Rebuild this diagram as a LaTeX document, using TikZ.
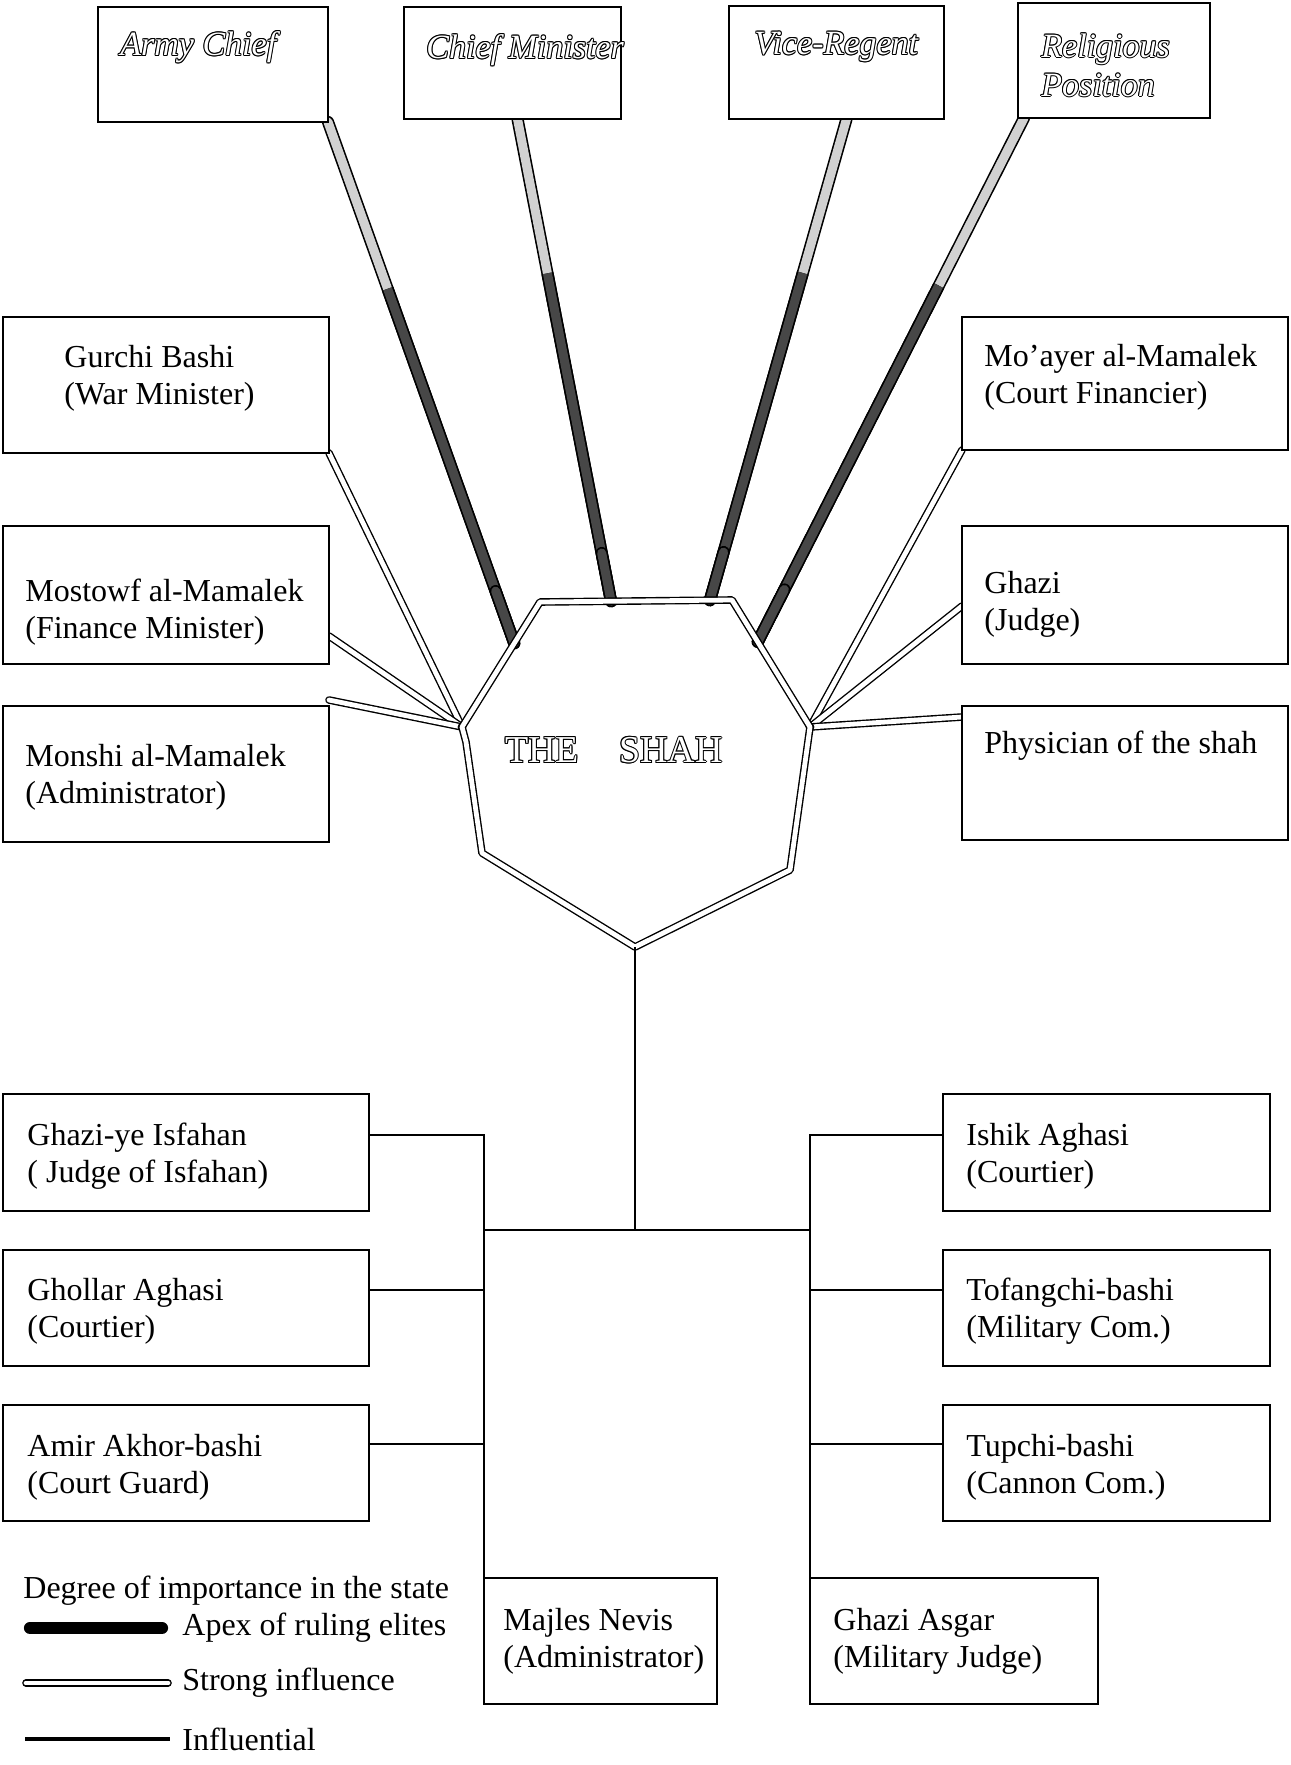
\documentclass[tikz,border=0pt]{standalone}
\usepackage{fontspec}
\setmainfont{Liberation Serif}
\usetikzlibrary{calc}
\newcommand\hollowtext[4]{%
  \foreach \ang in {0,45,...,315}{\node[#1, text=black] at ($(#3)+(\ang:0.5pt)$) {#4};}
  \node[#1, text=white] (#2) at (#3) {#4};}
\begin{document}
\begin{tikzpicture}[x=0.5pt,y=-0.5pt,
  box/.style={draw=black, line width=1.3pt, rectangle, inner sep=0pt, outer sep=0pt, fill=white},
  lbl/.style={font=\fontsize{16}{18.5}\selectfont, align=left, inner sep=0pt, anchor=west},
  toplbl/.style={font=\fontsize{17}{19.5}\selectfont\itshape, align=left, inner sep=0pt, anchor=west},
  shahlbl/.style={font=\fontsize{19}{21}\selectfont, inner sep=0pt, anchor=center},
  apexline/.style={line width=0.8pt, double distance=4.5pt, line cap=round},
  strongline/.style={line width=0.7pt, double=white, double distance=2.4pt, line cap=round, line join=round},
  infline/.style={line width=1.2pt},
]
\useasboundingbox (0,0) rectangle (1290,1765);
\fill[white] (0,0) rectangle (1290,1765);

% octagon corners
\coordinate (oTL) at (540,602);
\coordinate (oTR) at (732,600);
\coordinate (oR)  at (810,727);
\coordinate (oRL) at (790,870);
\coordinate (oB)  at (635,947);
\coordinate (oLL) at (482,853);
\coordinate (oL)  at (462,727);
\coordinate (oLk) at (466,742);

% boxes (empty nodes, labels placed separately)
\node[box, minimum width=115pt,   minimum height=57.5pt] (army)  at (213,64.5) {};
\node[box, minimum width=108.5pt, minimum height=56pt]   (chief) at (512.5,63) {};
\node[box, minimum width=107.5pt, minimum height=56.5pt] (vice)  at (836.5,62.5) {};
\node[box, minimum width=96pt,    minimum height=57.5pt] (relig) at (1114,60.5) {};

% apex connectors
\coordinate (eArmy)  at ($(oTL)!0.33!(oL)$);
\coordinate (eChief) at ($(oTL)!0.37!(oTR)$);
\coordinate (eVice)  at ($(oTL)!0.885!(oTR)$);
\coordinate (eRelig) at ($(oTR)!0.33!(oR)$);
\coordinate (sChief) at ($(chief.south)+(5,0)$);
\coordinate (sVice)  at ($(vice.south)+(10,0)$);
\coordinate (sRelig) at ($(relig.south west)+(6,0)$);
\foreach \s/\e in {army.south east/eArmy, sChief/eChief, sVice/eVice, sRelig/eRelig}{
  \draw[apexline, double=black!18] (\s) -- (\e);
  \draw[apexline, double=black!72, line cap=butt] ($(\s)!0.32!(\e)$) -- (\e);
  \draw[apexline, double=black!72] ($(\s)!0.9!(\e)$) -- (\e);
}

% side boxes
\node[box, minimum width=163pt, minimum height=68pt]   (gurchi)    at (166,385) {};
\node[box, minimum width=163pt, minimum height=69pt]   (mostowf)   at (166,595) {};
\node[box, minimum width=163pt, minimum height=68pt]   (monshi)    at (166,774) {};
\node[box, minimum width=163pt, minimum height=66.5pt] (moayer)    at (1125,383.5) {};
\node[box, minimum width=163pt, minimum height=69pt]   (ghazi)     at (1125,595) {};
\node[box, minimum width=163pt, minimum height=67pt]   (physician) at (1125,773) {};

% strong connectors
\coordinate (sMost) at ($(mostowf.north east)+(0,110)$);
\coordinate (sMon)  at ($(monshi.north east)+(0,-6)$);
\coordinate (sGhazi) at ($(ghazi.north west)+(0,80)$);
\coordinate (sPhys) at ($(physician.north west)+(0,11)$);
\draw[strongline] (gurchi.south east) -- (oL);
\draw[strongline] (sMost) -- (oL);
\draw[strongline] (sMon) -- (oL);
\draw[strongline] (moayer.south west) -- (oR);
\draw[strongline] (sGhazi) -- (oR);
\draw[strongline] (sPhys) -- (oR);
\fill[black] (oL) circle (2.2pt);
\fill[black] (oR) circle (2.2pt);

% the shah
\draw[strongline] (oTL) -- (oTR) -- (oR) -- (oRL) -- (oB) -- (oLL) -- (oLk) -- (oL) -- cycle;
\hollowtext{shahlbl}{shah}{614,750}{THE\hspace{20pt}SHAH}

% redraw side boxes on top of connector caps
\node[box, minimum width=163pt, minimum height=68pt]   at (gurchi) {};
\node[box, minimum width=163pt, minimum height=69pt]   at (mostowf) {};
\node[box, minimum width=163pt, minimum height=68pt]   at (monshi) {};
\node[box, minimum width=163pt, minimum height=66.5pt] at (moayer) {};
\node[box, minimum width=163pt, minimum height=69pt]   at (ghazi) {};
\node[box, minimum width=163pt, minimum height=67pt]   at (physician) {};
\node[box, minimum width=115pt,   minimum height=57.5pt] at (army) {};
\node[box, minimum width=108.5pt, minimum height=56pt]   at (chief) {};
\node[box, minimum width=107.5pt, minimum height=56.5pt] at (vice) {};
\node[box, minimum width=96pt,    minimum height=57.5pt] at (relig) {};

% top labels (hollow italic)
\hollowtext{toplbl}{armyT}{120,47}{Army Chief}
\hollowtext{toplbl}{chiefT}{426,50}{Chief Minister}
\hollowtext{toplbl}{viceT}{754,47}{Vice-Regent}
\hollowtext{toplbl}{religT}{1041,65}{Religious\\Position}

% side labels
\node[lbl] (gurchiT)  at (64,378)  {Gurchi Bashi\\(War Minister)};
\node[lbl] (mostowfT) at (25,612)  {Mostowf al-Mamalek\\(Finance Minister)};
\node[lbl] (monshiT)  at (25,777)  {Monshi al-Mamalek\\(Administrator)};
\node[lbl] (moayerT)  at (984,377) {Mo’ayer al-Mamalek\\(Court Financier)};
\node[lbl] (ghaziT)   at (984,604) {Ghazi\\(Judge)};
\node[lbl] (physT)    at (984,746) {Physician of the shah};

% lower boxes
\node[box, minimum width=183pt, minimum height=58.5pt] (ghaziI)  at (186,1152.5) {};
\node[box, minimum width=183pt, minimum height=58pt]   (ghollar) at (186,1308) {};
\node[box, minimum width=183pt, minimum height=58pt]   (amir)    at (186,1463) {};
\node[box, minimum width=163.5pt, minimum height=58.5pt] (ishik)  at (1106.5,1152.5) {};
\node[box, minimum width=163.5pt, minimum height=58pt]   (tofang) at (1106.5,1308) {};
\node[box, minimum width=163.5pt, minimum height=58pt]   (tupchi) at (1106.5,1463) {};
\node[box, minimum width=116.5pt, minimum height=63pt] (majles) at (600.5,1641) {};
\node[box, minimum width=144pt,   minimum height=63pt] (ghaziA) at (954,1641) {};

\node[lbl] (ghaziIT)  at (27,1156)  {Ghazi-ye Isfahan\\( Judge of Isfahan)};
\node[lbl] (ghollarT) at (27,1311)  {Ghollar Aghasi\\(Courtier)};
\node[lbl] (amirT)    at (27,1467)  {Amir Akhor-bashi\\(Court Guard)};
\node[lbl] (ishikT)   at (966,1156) {Ishik Aghasi\\(Courtier)};
\node[lbl] (tofangT)  at (966,1311) {Tofangchi-bashi\\(Military Com.)};
\node[lbl] (tupchiT)  at (966,1467) {Tupchi-bashi\\(Cannon Com.)};
\node[lbl] (majlesT)  at (503,1641) {Majles Nevis\\(Administrator)};
\node[lbl] (ghaziAT)  at (833,1641) {Ghazi Asgar\\(Military Judge)};

% influential tree
\coordinate (jc)  at (635,1230);
\coordinate (lv1) at (484,1135);
\coordinate (lv2) at (484,1290);
\coordinate (lv3) at (484,1444);
\coordinate (rv1) at (810,1135);
\coordinate (rv2) at (810,1290);
\coordinate (rv3) at (810,1444);
\draw[infline] (oB) -- (jc);
\draw[infline] (lv1 |- jc) -- (rv1 |- jc);
\draw[infline] (ghaziI.east |- lv1) -- (lv1) -- (majles.north west);
\draw[infline] (ghollar.east |- lv2) -- (lv2);
\draw[infline] (amir.east |- lv3) -- (lv3);
\draw[infline] (ishik.west |- rv1) -- (rv1) -- (ghaziA.north west);
\draw[infline] (tofang.west |- rv2) -- (rv2);
\draw[infline] (tupchi.west |- rv3) -- (rv3);

% legend
\node[lbl] (legT) at (23,1591) {Degree of importance in the state};
\coordinate (la1) at (30,1628); \coordinate (la2) at (162,1628);
\coordinate (ls1) at (26,1683); \coordinate (ls2) at (168,1683);
\coordinate (li1) at (25,1739); \coordinate (li2) at (170,1739);
\draw[apexline, double=black] (la1) -- (la2);
\draw[strongline] (ls1) -- (ls2);
\draw[line width=1.6pt] (li1) -- (li2);
\node[lbl] (legA) at (182,1628) {Apex of ruling elites};
\node[lbl] (legS) at (182,1683) {Strong influence};
\node[lbl] (legI) at (182,1739) {Influential};
\end{tikzpicture}
\end{document}
